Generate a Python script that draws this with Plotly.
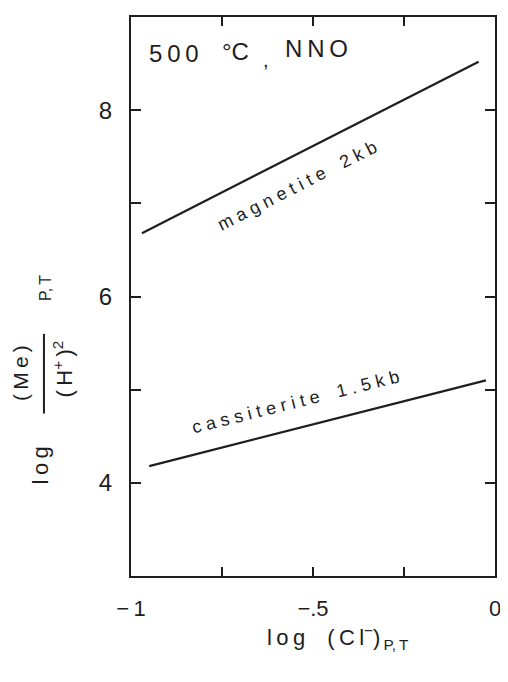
import plotly.graph_objects as go

# ---- data ----
magnetite_x = [-0.97, -0.045]
magnetite_y = [6.68, 8.52]
cassiterite_x = [-0.95, -0.025]
cassiterite_y = [4.18, 5.10]

x_tickvals = [-1, -0.75, -0.5, -0.25, 0]
x_ticktext = ["\u2212\u20091", "", "\u2212.5", "", "0"]
y_tickvals = [3, 4, 5, 6, 7, 8, 9]
y_ticktext = ["", "4", "", "6", "", "8", ""]

FONT = "Liberation Sans, Arial, sans-serif"
INK = "#1e1e1e"

# page has an 8px body margin, so the figure is placed 8px in from the window edge
OFF = 8
W, H = 500, 674
L, R, T, B = 123, 9, 7, 106
PW, PH = W - L - R, H - T - B


def px(page_x):
    return (page_x - OFF - L) / PW


def py(page_y):
    return (H - B - (page_y - OFF)) / PH


def spaced(s, sep=" "):
    return sep.join(list(s))


fig = go.Figure()
fig.add_trace(go.Scatter(x=magnetite_x, y=magnetite_y, mode="lines",
                         line=dict(color=INK, width=2.2), showlegend=False, hoverinfo="skip"))
fig.add_trace(go.Scatter(x=cassiterite_x, y=cassiterite_y, mode="lines",
                         line=dict(color=INK, width=2.2), showlegend=False, hoverinfo="skip"))


def note(x, y, text, size, angle=0, xref="paper", yref="paper", xanchor="center"):
    return dict(x=x, y=y, xref=xref, yref=yref, text=text, textangle=angle, showarrow=False,
                xanchor=xanchor, yanchor="middle", font=dict(size=size, color=INK, family=FONT))


ann = []
# curve labels
ann.append(note(-0.545, 7.19, spaced("magnetite") + "\u2003" + spaced("2kb"), 18, -27, "x", "y"))
ann.append(note(-0.548, 4.87, spaced("cassiterite") + "\u2003" + spaced("1.5kb"), 18, -14, "x", "y"))
# condition label
ann.append(note(px(147), py(52), spaced("500", "\u2009"), 24, xanchor="left"))
ann.append(note(px(237), py(50), "\u00b0C", 24))
ann.append(note(px(267), py(58), ",", 20))
ann.append(note(px(319), py(47), spaced("NNO", "\u2009"), 24))

# y-axis title pieces
ann.append(note(px(39), py(465), spaced("log", "\u2009"), 22, -90))
ann.append(note(px(20), py(372), spaced("(Me)", "\u2009"), 21, -90))
ann.append(note(px(62), py(368), "(\u2009H<sup>+</sup>\u2009)<sup>2</sup>", 22, -90))
ann.append(note(px(44), py(287), "P,\u2009T", 16, -90))

# x-axis title
ann.append(note(px(340), py(638),
                spaced("log", "\u2009") + "\u2003(\u2009C\u2009l<sup>\u2212</sup>)<sub>\u2009P,\u2009T</sub>", 22))

shapes = [dict(type="line", xref="paper", yref="paper", x0=px(43), x1=px(43), y0=py(333), y1=py(413),
               line=dict(color=INK, width=2))]

fig.update_layout(
    width=W, height=H,
    margin=dict(l=L, r=R, t=T, b=B, pad=0),
    paper_bgcolor="white", plot_bgcolor="white",
    annotations=ann, shapes=shapes,
    font=dict(family=FONT, color=INK),
)
fig.update_xaxes(range=[-1, 0], tickmode="array", tickvals=x_tickvals, ticktext=x_ticktext,
                 ticks="inside", ticklen=9, tickwidth=1.5, tickcolor=INK,
                 showline=True, linecolor=INK, linewidth=2, mirror="allticks",
                 showgrid=False, zeroline=False, tickfont=dict(size=22, color=INK, family=FONT),
                 ticklabelstandoff=12)
fig.update_yaxes(range=[3, 9], tickmode="array", tickvals=y_tickvals, ticktext=y_ticktext,
                 ticks="inside", ticklen=10, tickwidth=1.5, tickcolor=INK,
                 showline=True, linecolor=INK, linewidth=2, mirror="allticks",
                 showgrid=False, zeroline=False, tickfont=dict(size=24, color=INK, family=FONT),
                 ticklabelstandoff=12)

fig.write_html("out.html")
